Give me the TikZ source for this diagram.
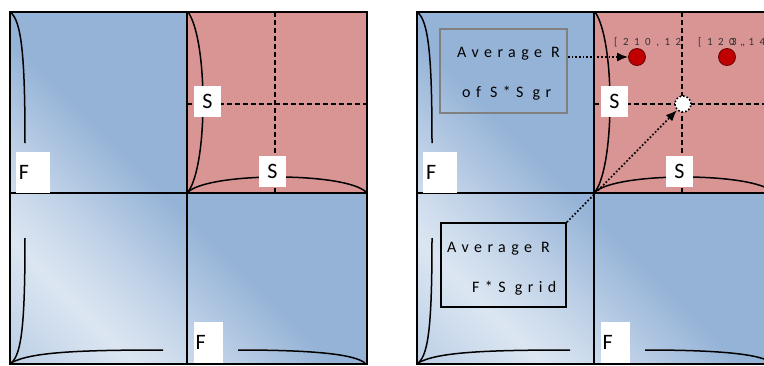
\documentclass[tikz,border=0pt]{standalone}
\usepackage{fontspec}
\setmainfont{Carlito}
\newfontfamily\spacedfont[LetterSpace=34]{Carlito}
\newfontfamily\widefont[LetterSpace=50]{Carlito}
\usetikzlibrary{arrows.meta}
\definecolor{gridblue}{HTML}{95B3D7}
\definecolor{gridlight}{HTML}{DCE6F2}
\definecolor{gridred}{HTML}{D99594}
\definecolor{dotred}{HTML}{C00000}
\definecolor{boxgray}{HTML}{808080}
\pgfdeclarehorizontalshading{gridshade}{100bp}{color(0bp)=(gridblue!85!gridlight); color(12bp)=(gridblue!55!gridlight); color(27bp)=(gridlight); color(35bp)=(gridlight!65!gridblue); color(47bp)=(gridblue); color(100bp)=(gridblue)}
\tikzset{
  letterbox/.style={fill=white, inner sep=0pt, minimum width=27pt, minimum height=31pt, font=\fontsize{22}{22}\selectfont},
  sgrid/.style={line width=1.5pt, dash pattern=on 5pt off 3pt},
  brace/.style={line width=1.5pt},
  noteline/.style={font=\spacedfont\fontsize{16}{16}\selectfont, inner sep=0pt, anchor=base west},
  coordtext/.style={font=\widefont\fontsize{11}{11}\selectfont, inner sep=0pt, anchor=base west, text=black!80},
  pointer/.style={line width=1.7pt, dotted, -{Latex[length=11pt,width=9pt]}}
}
\begin{document}
\begin{tikzpicture}[x=1pt,y=-1pt]
  \useasboundingbox (0,0) rectangle (764,365);
  \clip (0,0) rectangle (764,365);
  % the two F*F grids
  \foreach \ox/\pn in {0/l,407/r} {
    \begin{scope}[xshift=\ox pt]
      \shade[shading=gridshade, shading angle=45] (10,12) rectangle (367,364);
      % S*S block
      \fill[gridred] (187,12) rectangle (367,193);
      \draw[line width=1.4pt] (187,12) -- (187,364);
      \draw[line width=1.4pt] (10,193) -- (367,193);
      \draw[line width=1.8pt] (10,12) rectangle (367,364);
      \draw[sgrid] (187,12) rectangle (367,193);
      \draw[sgrid] (275,12) -- (275,193);
      \draw[sgrid] (187,104) -- (367,104);
      % braces
      \draw[brace] (10,12) .. controls (22,20) and (25,60) .. (25,143);
      \draw[brace] (25,238) .. controls (25,320) and (22,355) .. (11,363);
      \draw[brace] (11,363) .. controls (30,352) and (80,350) .. (163,350);
      \draw[brace] (238,350) .. controls (320,350) and (355,355) .. (365,363);
      \draw[brace] (188,12) .. controls (208,40) and (208,165) .. (188,192);
      \draw[brace] (188,192) .. controls (210,172) and (345,172) .. (366,192);
      % labels
      \node[letterbox, text width=28pt, inner xsep=3pt, minimum height=41pt, align=left] (Fside-\pn) at (33,172.5) {F};
      \node[letterbox, text width=26pt, inner xsep=1.5pt, minimum height=41pt, align=left] (Fbase-\pn) at (208.5,342.5) {F};
      \node[letterbox] (Sside-\pn) at (207.5,101.5) {S};
      \node[letterbox] (Sbase-\pn) at (272.5,171) {S};
    \end{scope}
  }
  % notes on the right grid
  \node[draw=boxgray, line width=1.6pt, minimum width=127pt, minimum height=84pt] (ssbox) at (503.5,71) {};
  \node[noteline] (ssline1) at (457,57) {Average R};
  \node[noteline] (ssline2) at (462,97) {of S*S gr};
  \node[draw, line width=1.6pt, minimum width=125pt, minimum height=84pt] (fsbox) at (503.5,265) {};
  \node[noteline] (fsline1) at (447,252) {Average R};
  \node[noteline] (fsline2) at (472,292) {F*S grid};
  % points
  \node[circle, fill=dotred, draw=dotred!55!black, line width=0.8pt, inner sep=0pt, minimum size=17pt] (dotA) at (637,57) {};
  \node[circle, fill=dotred, draw=dotred!55!black, line width=0.8pt, inner sep=0pt, minimum size=17pt] (dotB) at (727,57) {};
  \node[circle, fill=white, draw, dotted, line width=1.6pt, inner sep=0pt, minimum size=16pt] (avgpt) at (683,104) {};
  \node[coordtext] (dotAlabel) at (614,45) {[210,12};
  \node[coordtext] (dotBlabel) at (698,45) {[120,145};
  \node[coordtext] (dotBover) at (731,45) {3,};
  % pointers
  \draw[pointer] (ssbox.east |- dotA) -- (dotA);
  \draw[pointer] (fsbox.north east) -- (avgpt);
\end{tikzpicture}
\end{document}
